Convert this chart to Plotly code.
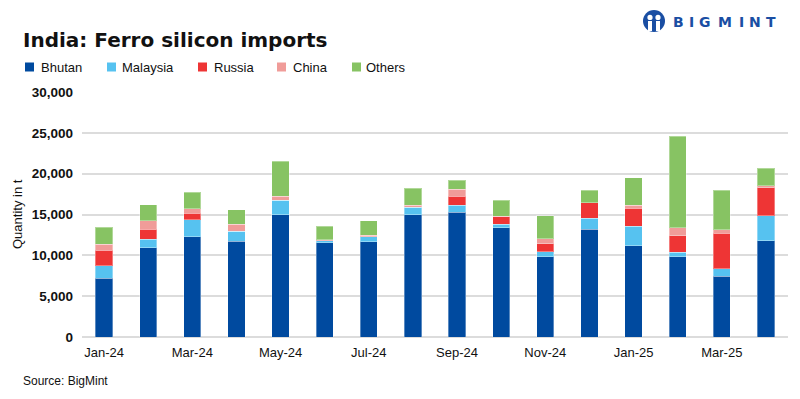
import plotly.graph_objects as go

months = ["Jan-24", "Feb-24", "Mar-24", "Apr-24", "May-24", "Jun-24", "Jul-24", "Aug-24",
          "Sep-24", "Oct-24", "Nov-24", "Dec-24", "Jan-25", "Feb-25", "Mar-25", "Apr-25"]
bhutan   = [7200, 10950, 12260, 11730, 14960, 11530, 11650, 14960, 15290, 13400, 9810, 13200, 11200, 9810, 7440, 11810]
malaysia = [1550, 1020, 2125, 1230, 1800, 250, 610, 940, 860, 410, 650, 1350, 2370, 570, 900, 3025]
russia   = [1880, 1230, 775, 0, 0, 0, 0, 0, 1100, 900, 940, 1880, 2170, 2000, 4370, 3430]
china    = [740, 1020, 570, 820, 490, 120, 200, 245, 820, 80, 610, 0, 370, 1020, 450, 245]
others   = [2040, 1960, 2000, 1800, 4290, 1670, 1800, 2085, 1145, 1960, 2860, 1510, 3390, 11200, 4780, 2170]

series_names = ["Bhutan", "Malaysia", "Russia", "China", "Others"]
series_values = [bhutan, malaysia, russia, china, others]
colors = ["#004a9f", "#56c2f0", "#ee3535", "#f09c99", "#87c363"]

y_ticks = [0, 5000, 10000, 15000, 20000, 25000, 30000]
x_ticks = months[::2]

# page has an 8px body margin: figure fits exactly in the 800x399 window
OFF = 8
W, H = 800 - OFF, 399 - OFF
L, R, T, B = 82 - OFF, 12, 92 - OFF, 62
PW, PH = W - L - R, H - T - B

def px_x(p):  # p in page pixels
    return (p - OFF - L) / PW

def px_y(p):
    return (H - B - (p - OFF)) / PH

fig = go.Figure()
for name, vals, col in zip(series_names, series_values, colors):
    fig.add_trace(go.Bar(
        x=months, y=vals, name=name,
        marker=dict(color=col, line=dict(color="rgba(255,255,255,0.35)", width=1)),
        showlegend=False,
        hovertemplate="%{x}<br>" + name + ": %{y:,}<extra></extra>",
    ))

shapes = []
annotations = []

# custom legend
legend_sq = [25, 107, 198, 277, 352]
legend_tx = [39, 120, 212, 291, 364]
for name, col, sx, tx in zip(series_names, colors, legend_sq, legend_tx):
    shapes.append(dict(type="rect", xref="paper", yref="paper",
                       x0=px_x(sx), x1=px_x(sx + 9), y0=px_y(71.5), y1=px_y(62.5),
                       fillcolor=col, line=dict(width=0)))
    annotations.append(dict(text=name, xref="paper", yref="paper", x=px_x(tx), y=px_y(67),
                            xanchor="left", yanchor="middle", showarrow=False,
                            font=dict(family="Liberation Sans, Arial", size=13, color="#111111")))

# title
annotations.append(dict(text="<b>India: Ferro silicon imports</b>", xref="paper", yref="paper",
                        x=px_x(21), y=px_y(40), xanchor="left", yanchor="middle", showarrow=False,
                        font=dict(family="DejaVu Sans", size=20, color="#111111")))
# source
annotations.append(dict(text="Source: BigMint", xref="paper", yref="paper",
                        x=px_x(21), y=px_y(381), xanchor="left", yanchor="middle", showarrow=False,
                        font=dict(family="Liberation Sans, Arial", size=12, color="#111111")))
# y-axis title
annotations.append(dict(text="Quantity in t", xref="paper", yref="paper",
                        x=px_x(17), y=px_y(214), xanchor="center", yanchor="middle", showarrow=False,
                        textangle=-90,
                        font=dict(family="Liberation Sans, Arial", size=13, color="#111111")))

# logo
logo_blue = "#1a4ea3"
shapes.append(dict(type="circle", xref="paper", yref="paper",
                   x0=px_x(643), x1=px_x(665), y0=px_y(32), y1=px_y(10),
                   fillcolor=logo_blue, line=dict(width=0)))
for cx in [650, 658]:
    shapes.append(dict(type="circle", xref="paper", yref="paper",
                       x0=px_x(cx - 2.6), x1=px_x(cx + 2.6), y0=px_y(20), y1=px_y(14.8),
                       fillcolor="white", line=dict(width=0)))
    shapes.append(dict(type="rect", xref="paper", yref="paper",
                       x0=px_x(cx - 2), x1=px_x(cx + 2), y0=px_y(31), y1=px_y(21),
                       fillcolor="white", line=dict(width=0)))
for letter, cx in zip("BIGMINT", [678, 691, 705, 725, 741, 754.5, 771]):
    annotations.append(dict(text="<b>" + letter + "</b>", xref="paper", yref="paper",
                            x=px_x(cx), y=px_y(22.5), xanchor="center", yanchor="middle",
                            showarrow=False,
                            font=dict(family="DejaVu Sans", size=14, color=logo_blue)))

fig.update_layout(
    barmode="stack",
    bargap=0.61,
    width=W, height=H,
    margin=dict(l=L, r=R, t=T, b=B),
    paper_bgcolor="white",
    plot_bgcolor="white",
    shapes=shapes,
    annotations=annotations,
    xaxis=dict(
        type="category",
        categoryorder="array", categoryarray=months,
        tickmode="array", tickvals=x_ticks, ticktext=x_ticks,
        showgrid=False, showline=False, zeroline=False, ticks="",
        ticklabelstandoff=6,
        tickfont=dict(family="Liberation Sans, Arial", size=13, color="#111111"),
        fixedrange=True,
    ),
    yaxis=dict(
        range=[0, 30000],
        tickmode="array", tickvals=y_ticks,
        ticktext=[f"<b>{v:,}</b>" for v in y_ticks],
        showgrid=True, gridcolor="#dcdcdc", gridwidth=1.5,
        zeroline=True, zerolinecolor="#dcdcdc", zerolinewidth=1.5,
        showline=False, ticks="",
        ticklabelstandoff=8,
        tickfont=dict(family="Liberation Sans, Arial", size=13.5, color="#111111"),
        fixedrange=True,
    ),
)

fig.write_html("out.html")
